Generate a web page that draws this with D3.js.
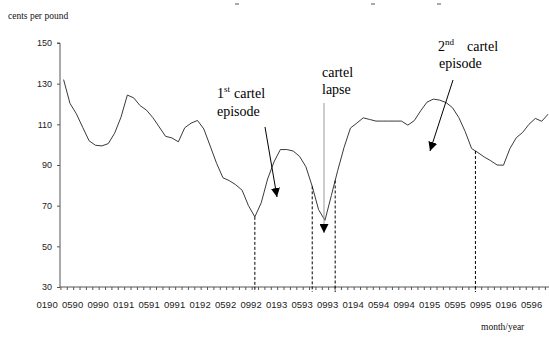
<!DOCTYPE html>
<html lang="en">
  <head>
    <meta charset="utf-8">
    <title>coffee price</title>
    <script src="https://d3js.org/d3.v7.js"></script>
    <style>
      body { margin: 0; background: #fff; }
      svg { display: block; }
    </style>
  </head>

  <body>

  <script>

// monthly price, Jan 1990 (0190) to May 1996 (0596)
  var prices = [132, 120.3, 115.2, 108.5, 101.9, 99.7, 99.4, 100.5, 105.6, 113.5,
                124.4, 123, 119.2, 117, 113.3, 108.7, 104.1, 103.3, 101.4, 108.3,
                110.6, 111.9, 107.7, 99.3, 90.8, 83.7, 82.3, 80.3, 77.6, 70,
                64.5, 71.4, 83.1, 91.5, 97.6, 97.6, 96.9, 94.3, 89.2, 79.5,
                68, 62.8, 75, 87.3, 98.7, 108.2, 110.6, 113.2, 112.4, 111.6,
                111.6, 111.6, 111.6, 111.6, 109.6, 111.8, 116.6, 120.9, 122.4, 121.9,
                120.7, 118.2, 113.3, 106.4, 98.1, 96.1, 93.9, 92.1, 90, 89.9,
                98, 103.4, 106, 110, 112.9, 111.5, 115];

  var monthLabels = ["0190", "0590", "0990", "0191", "0591", "0991", "0192", "0592", "0992", "0193",
                     "0593", "0993", "0194", "0594", "0994", "0195", "0595", "0995", "0196", "0596"];

  var yTicks = [30, 50, 70, 90, 110, 130, 150];

  // months where the dashed drop lines sit
  var markMonths = [30, 39, 42.6, 64.6];

  var w = 549;
  var h = 339;

  var svg = d3.select("body")
    .append("svg")
      .attr("width", w)
      .attr("height", h);

  var x = d3.scaleLinear()
      .domain([0, 76])
      .range([63.6, 63.6 + 76 * 6.375]);

  var y = d3.scaleLinear()
      .domain([30, 150])
      .range([287, 43]);

  var serif = "'Liberation Serif', 'Times New Roman', serif";
  var sans = "'Liberation Sans', Arial, sans-serif";

// y axis

  var yAxis = svg.append("g")
      .attr("transform", "translate(60,0)")
      .call(d3.axisLeft(y).tickValues(yTicks).tickSize(3).tickPadding(5));

  yAxis.select(".domain").attr("stroke", "#555").attr("d", "M-3," + y(150) + "H0V" + y(30));
  yAxis.selectAll(".tick line").attr("stroke", "#555");
  yAxis.selectAll("text")
      .attr("fill", "#222")
      .style("font-family", sans)
      .style("font-size", "9px");

// x axis: a tick between every month, labels every four months

  var xTicks = svg.append("g")
      .attr("transform", "translate(0,287)")
      .call(d3.axisBottom(x).tickValues(d3.range(-0.5, 78, 1)).tickSize(3).tickFormat(""));

  xTicks.select(".domain").attr("stroke", "#555").attr("d", "M60,0H549");
  xTicks.selectAll(".tick line").attr("stroke", "#555");

  var xLabels = svg.append("g")
      .attr("transform", "translate(0,287)")
      .call(d3.axisBottom(x)
        .tickValues(d3.range(0, 77, 4))
        .tickSize(0)
        .tickPadding(14)
        .tickFormat((d, i) => monthLabels[i]));

  xLabels.select(".domain").remove();
  xLabels.selectAll("text")
      .attr("dx", -17)
      .attr("fill", "#222")
      .style("font-family", sans)
      .style("font-size", "9.5px");

// price line

  var line = d3.line()
      .x((d, i) => x(i))
      .y(d => y(d));

  svg.append("path")
      .datum(prices)
      .attr("d", line)
      .attr("fill", "none")
      .attr("stroke", "#3a3a3a")
      .attr("stroke-width", 1);

// dashed drop lines from the series to the axis

  function priceAt(m) {
    var i = Math.floor(m), t = m - i;
    return prices[i] + (prices[Math.min(i + 1, prices.length - 1)] - prices[i]) * t;
  }

  svg.selectAll(".drop")
      .data(markMonths)
      .enter().append("line")
      .attr("class", "drop")
      .attr("x1", d => x(d))
      .attr("x2", d => x(d))
      .attr("y1", d => y(priceAt(d)))
      .attr("y2", y(30) + 5)
      .attr("stroke", "#000")
      .attr("stroke-width", 1)
      .attr("stroke-dasharray", "3,2");

// arrows and annotations

  svg.append("defs").append("marker")
      .attr("id", "head")
      .attr("viewBox", "0 0 10 10")
      .attr("refX", 10)
      .attr("refY", 5)
      .attr("markerWidth", 9)
      .attr("markerHeight", 9)
      .attr("markerUnits", "userSpaceOnUse")
      .attr("orient", "auto")
    .append("path")
      .attr("d", "M0,0L10,5L0,10z")
      .attr("fill", "#000");

  var arrows = [
    {x1: 265, y1: 127, x2: 277, y2: 197, color: "#000"},
    {x1: 324, y1: 103, x2: 324, y2: 233, color: "#999"},
    {x1: 453, y1: 80, x2: 430, y2: 151, color: "#000"}
  ];

  svg.selectAll(".arrow")
      .data(arrows)
      .enter().append("line")
      .attr("class", "arrow")
      .attr("x1", d => d.x1)
      .attr("y1", d => d.y1)
      .attr("x2", d => d.x2)
      .attr("y2", d => d.y2)
      .attr("stroke", d => d.color)
      .attr("stroke-width", 1)
      .attr("marker-end", "url(#head)");

  function note(tx, ty, parts) {
    var t = svg.append("text")
        .attr("x", tx)
        .attr("y", ty)
        .attr("fill", "#000")
        .style("font-family", serif)
        .style("font-size", "14px");
    parts.forEach(p => {
      var s = t.append("tspan").text(p.t);
      if (p.sup) s.attr("dy", -6).style("font-size", "9px");
      if (p.down) s.attr("dy", 6);
      if (p.x) s.attr("x", p.x);
    });
  }

  note(217, 98, [{t: "1"}, {t: "st", sup: true}, {t: "cartel", down: true, x: 234}]);
  note(217, 116, [{t: "episode"}]);
  note(322, 77, [{t: "cartel"}]);
  note(322, 94, [{t: "lapse"}]);
  note(438, 51, [{t: "2"}, {t: "nd", sup: true}, {t: "cartel", down: true, x: 467}]);
  note(439, 68, [{t: "episode"}]);

  svg.append("text")
      .attr("x", 8)
      .attr("y", 19)
      .attr("fill", "#111")
      .style("font-family", serif)
      .style("font-size", "9.5px")
      .text("cents per pound");

  svg.append("text")
      .attr("x", 481)
      .attr("y", 330)
      .attr("fill", "#111")
      .style("font-family", serif)
      .style("font-size", "9.5px")
      .text("month/year");

  // remnants of a cropped title along the top edge
  svg.selectAll(".crop")
      .data([235, 371, 437])
      .enter().append("line")
      .attr("class", "crop")
      .attr("x1", d => d)
      .attr("x2", d => d + 4)
      .attr("y1", 4)
      .attr("y2", 4)
      .attr("stroke", "#555")
      .attr("stroke-width", 1);

    </script>

  </body>

</html>
